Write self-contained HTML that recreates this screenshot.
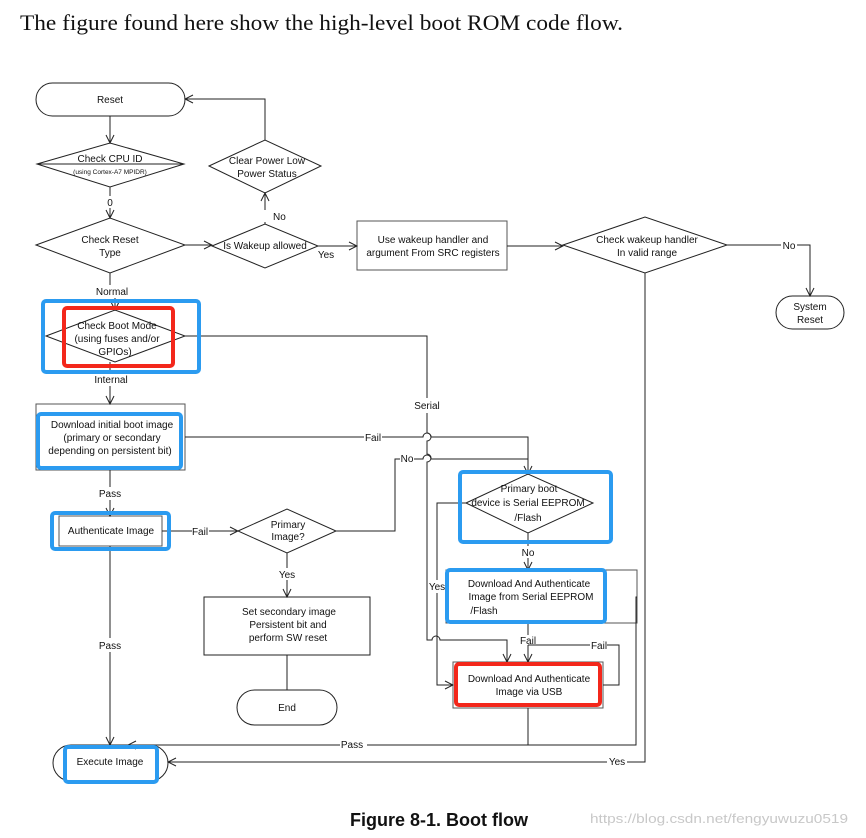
<!DOCTYPE html>
<html><head><meta charset="utf-8"><style>
html,body{margin:0;padding:0;background:#fff;}
svg{display:block;}
text{font-family:"Liberation Sans",sans-serif;font-size:10px;fill:#111;}
</style></head><body>
<svg width="866" height="838" viewBox="0 0 866 838" xmlns="http://www.w3.org/2000/svg">
<defs>
<marker id="a" markerWidth="10" markerHeight="10" refX="9" refY="5" orient="auto" markerUnits="userSpaceOnUse">
<path d="M1,1 L9,5 L1,9" fill="none" stroke="#222" stroke-width="1"/>
</marker>
</defs>
<text x="20" y="30" style="font-family:'Liberation Serif',serif;font-size:22px" textLength="603" lengthAdjust="spacingAndGlyphs">The figure found here show the high-level boot ROM code flow.</text>

<g fill="none" stroke="#222" stroke-width="1">
<!-- shapes -->
<rect x="36" y="83" width="149" height="33" rx="16.5"/>
<polygon points="37,164 110,143 184,164 110,187"/>
<line x1="37" y1="164" x2="184" y2="164"/>
<polygon points="36,245 110,218 185,245 110,273"/>
<polygon points="212,246 265,224 318,246 265,268"/>
<polygon points="209,166 265,140 321,166 265,193"/>
<rect x="357" y="221" width="150" height="49" stroke="#555"/>
<polygon points="563,245 645,217 727,245 645,273"/>
<rect x="776" y="296" width="68" height="33" rx="16.5"/>
<polygon points="46,336 115,310 185,336 115,362"/>
<rect x="36" y="404" width="149" height="66" stroke="#555"/>
<rect x="59" y="516" width="103" height="30" stroke="#555"/>
<polygon points="238,531 287,509 336,531 287,553"/>
<rect x="204" y="597" width="166" height="58"/>
<rect x="237" y="690" width="100" height="35" rx="17.5"/>
<rect x="53" y="745" width="115" height="36" rx="18"/>
<polygon points="466,503 528,474 593,503 528,533"/>
<rect x="446" y="570" width="191" height="53" stroke="#555"/>
<rect x="453" y="662" width="150" height="46" stroke="#555"/>

<!-- connectors -->
<line x1="110" y1="116" x2="110" y2="143" marker-end="url(#a)"/>
<line x1="110" y1="187" x2="110" y2="196"/>
<line x1="110" y1="208" x2="110" y2="218" marker-end="url(#a)"/>
<line x1="185" y1="245" x2="212" y2="245" marker-end="url(#a)"/>
<line x1="265" y1="224" x2="265" y2="222"/>
<line x1="265" y1="210" x2="265" y2="193" marker-end="url(#a)"/>
<polyline points="265,140 265,99 185,99" marker-end="url(#a)"/>
<line x1="318" y1="246" x2="357" y2="246" marker-end="url(#a)"/>
<line x1="507" y1="246" x2="563" y2="246" marker-end="url(#a)"/>
<line x1="727" y1="245" x2="781" y2="245"/>
<polyline points="797,245 810,245 810,296" marker-end="url(#a)"/>
<line x1="110" y1="273" x2="110" y2="285"/>
<line x1="115" y1="298" x2="115" y2="310" marker-end="url(#a)"/>
<polyline points="185,336 427,336 427,398"/>
<line x1="110" y1="362" x2="110" y2="373"/>
<line x1="110" y1="386" x2="110" y2="404" marker-end="url(#a)"/>
<!-- serial line with hops -->
<path d="M427,413 L427,433 A4,4 0 0 1 427,441 L427,454 A4,4 0 0 1 427,462 L427,640 L432,640 A4,4 0 0 1 440,640 L507,640 L507,662" marker-end="url(#a)"/>
<!-- fail from download -->
<polyline points="185,437 364,437"/>
<path d="M382,437 L423,437 A4,4 0 0 1 431,437 L528,437 L528,474" marker-end="url(#a)"/>
<line x1="110" y1="470" x2="110" y2="487"/>
<line x1="110" y1="500" x2="110" y2="516" marker-end="url(#a)"/>
<line x1="162" y1="531" x2="192" y2="531"/>
<line x1="209" y1="531" x2="238" y2="531" marker-end="url(#a)"/>
<polyline points="336,531 395,531 395,459 400,459"/>
<path d="M414,459 L423,459 A4,4 0 0 1 431,459 L528,459"/>
<line x1="287" y1="553" x2="287" y2="568"/>
<line x1="287" y1="580" x2="287" y2="597" marker-end="url(#a)"/>
<line x1="287" y1="655" x2="287" y2="690"/>
<line x1="110" y1="546" x2="110" y2="638"/>
<line x1="110" y1="652" x2="110" y2="745" marker-end="url(#a)"/>
<polyline points="466,503 437,503 437,580"/>
<polyline points="437,593 437,685 453,685" marker-end="url(#a)"/>
<line x1="528" y1="533" x2="528" y2="546"/>
<line x1="528" y1="558" x2="528" y2="570" marker-end="url(#a)"/>
<line x1="528" y1="623" x2="528" y2="635"/>
<line x1="528" y1="645" x2="528" y2="662" marker-end="url(#a)"/>
<polyline points="603,685 619,685 619,645 607,645"/>
<line x1="590" y1="645" x2="528" y2="645"/>
<polyline points="637,597 636,597 636,745 367,745"/>
<polyline points="528,708 528,745"/>
<line x1="340" y1="745" x2="128" y2="745" marker-end="url(#a)"/>
<polyline points="645,273 645,762 627,762"/>
<line x1="607" y1="762" x2="168" y2="762" marker-end="url(#a)"/>
</g>

<!-- highlight boxes -->
<g fill="none" stroke-width="4">
<rect x="43" y="301" width="156" height="71" rx="3" stroke="#2b9bf0"/>
<rect x="64" y="308" width="109" height="58" rx="3" stroke="#f3271b"/>
<rect x="38" y="414" width="143" height="54" rx="3" stroke="#2b9bf0"/>
<rect x="52" y="513" width="117" height="36" rx="3" stroke="#2b9bf0"/>
<rect x="65" y="747" width="92" height="35" rx="3" stroke="#2b9bf0"/>
<rect x="460" y="472" width="151" height="70" rx="3" stroke="#2b9bf0"/>
<rect x="447" y="570" width="158" height="52" rx="3" stroke="#2b9bf0"/>
<rect x="456" y="664" width="144" height="41" rx="3" stroke="#f3271b"/>
</g>

<g text-anchor="middle">
<text x="110" y="103">Reset</text>
<text x="110" y="162">Check CPU ID</text>
<text x="110" y="174" style="font-size:6.5px">(using Cortex-A7 MPIDR)</text>
<text x="110" y="206">0</text>
<text x="110" y="243">Check Reset</text>
<text x="110" y="256">Type</text>
<text x="265" y="249">Is Wakeup allowed</text>
<text x="273" y="220" text-anchor="start">No</text>
<text x="326" y="258">Yes</text>
<text x="267" y="164">Clear Power Low</text>
<text x="267" y="177">Power Status</text>
<text x="433" y="243">Use wakeup handler and</text>
<text x="433" y="256">argument From SRC registers</text>
<text x="647" y="243">Check wakeup handler</text>
<text x="647" y="256">In valid range</text>
<text x="789" y="249">No</text>
<text x="810" y="310">System</text>
<text x="810" y="323">Reset</text>
<text x="112" y="295">Normal</text>
<text x="117" y="329">Check Boot Mode</text>
<text x="117" y="342">(using fuses and/or</text>
<text x="115" y="355">GPIOs)</text>
<text x="111" y="383">Internal</text>
<text x="427" y="409">Serial</text>
<text x="112" y="428">Download initial boot image</text>
<text x="112" y="441">(primary or secondary</text>
<text x="110" y="454">depending on persistent bit)</text>
<text x="373" y="441">Fail</text>
<text x="407" y="462">No</text>
<text x="110" y="497">Pass</text>
<text x="111" y="534">Authenticate Image</text>
<text x="200" y="535">Fail</text>
<text x="288" y="528">Primary</text>
<text x="288" y="540">Image?</text>
<text x="287" y="578">Yes</text>
<text x="289" y="615">Set secondary image</text>
<text x="288" y="628">Persistent bit and</text>
<text x="288" y="641">perform SW reset</text>
<text x="287" y="711">End</text>
<text x="110" y="649">Pass</text>
<text x="110" y="765">Execute Image</text>
<text x="529" y="492">Primary boot</text>
<text x="528" y="506">device is Serial EEPROM</text>
<text x="528" y="521">/Flash</text>
<text x="528" y="556">No</text>
<text x="437" y="590">Yes</text>
<text x="529" y="587">Download And Authenticate</text>
<text x="531" y="600">Image from Serial EEPROM</text>
<text x="484" y="614">/Flash</text>
<text x="528" y="644">Fail</text>
<text x="599" y="649">Fail</text>
<text x="529" y="682">Download And Authenticate</text>
<text x="529" y="695">Image via USB</text>
<text x="352" y="748">Pass</text>
<text x="617" y="765">Yes</text>
</g>
<text x="439" y="826" text-anchor="middle" style="font-size:18px;font-weight:bold">Figure 8-1. Boot flow</text>
<text x="590" y="823" style="font-size:12.5px;fill:#c8c8c8" textLength="258" lengthAdjust="spacingAndGlyphs">https://blog.csdn.net/fengyuwuzu0519</text>
</svg>
</body></html>
